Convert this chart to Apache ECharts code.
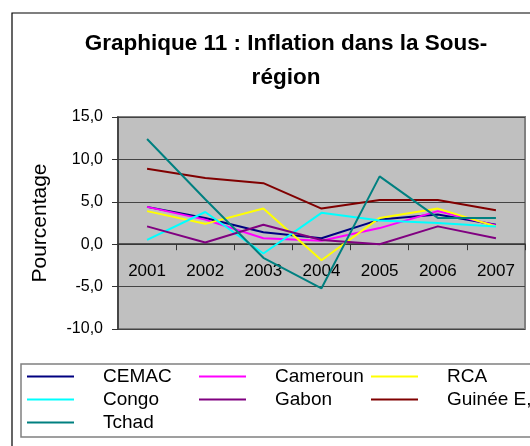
<!DOCTYPE html>
<html>
<head>
<meta charset="utf-8">
<script src="https://cdn.jsdelivr.net/npm/echarts@6/dist/echarts.min.js"></script>
<style>
  html, body { margin: 0; padding: 0; background: #fff; }
  #chart { width: 530px; height: 446px; }
</style>
</head>
<body>
<div id="chart"></div>
<script>
// data
const years = ['2001', '2002', '2003', '2004', '2005', '2006', '2007']
const cemac = [4.4, 3.1, 1.4, 0.7, 2.9, 3.5, 2.3]
const cameroun = [4.4, 2.9, 0.7, 0.4, 1.9, 3.9, 2.2]
const rca = [3.9, 2.4, 4.2, -1.9, 3.1, 4.2, 2.1]
const congo = [0.5, 3.8, -1.1, 3.7, 2.8, 2.5, 2.1]
const gabon = [2.1, 0.2, 2.3, 0.5, 0.0, 2.1, 0.7]
const guinee = [8.9, 7.8, 7.2, 4.2, 5.2, 5.2, 4.0]
const tchad = [12.4, 5.3, -1.6, -5.2, 8.0, 3.1, 3.1]

const yMin = -10
const yMax = 15

const seriesDefs = [
    { name: 'CEMAC', data: cemac, color: '#000080' },
    { name: 'Cameroun', data: cameroun, color: '#ff00ff' },
    { name: 'RCA', data: rca, color: '#ffff00' },
    { name: 'Congo', data: congo, color: '#00ffff' },
    { name: 'Gabon', data: gabon, color: '#800080' },
    { name: 'Guinée E,', data: guinee, color: '#800000' },
    { name: 'Tchad', data: tchad, color: '#008080' }
]

const font = 'Liberation Sans, Arial, sans-serif'
const chart = echarts.init(document.getElementById('chart'))

const gridTop = 117
const gridBottom = 117
const gridHeight = 446 - gridTop - gridBottom
// move the category axis up to the zero line
const zeroOffset = -gridHeight * (0 - yMin) / (yMax - yMin)

// one legend per row, fixed column widths like the original table legend
const legendRow = (names, top) => ({
    data: names,
    left: 27,
    top: top,
    width: 520,
    padding: 0,
    orient: 'horizontal',
    icon: 'rect',
    itemWidth: 47,
    itemHeight: 2,
    itemGap: 0,
    selectedMode: false,
    formatter: name => '{s|}{n|' + name + '}',
    textStyle: {
        fontFamily: font,
        fontSize: 19,
        color: '#000',
        rich: {
            s: { width: 24, lineHeight: 23 },
            n: { width: 96, fontSize: 19, lineHeight: 23, fontFamily: font, color: '#000' }
        }
    }
})

const option = {
    animation: false,
    backgroundColor: '#fff',
    title: {
        text: 'Graphique 11 : Inflation dans la Sous-\nrégion',
        left: 281,
        top: 22,
        textAlign: 'center',
        textStyle: {
            fontFamily: font,
            fontSize: 22.5,
            fontWeight: 'bold',
            color: '#000',
            lineHeight: 34
        }
    },
    graphic: [
        {
            type: 'rect',
            shape: { x: 12, y: 13, width: 540, height: 450 },
            style: { fill: 'none', stroke: '#000', lineWidth: 1.2 },
            z: -1
        },
        {
            type: 'rect',
            shape: { x: 21, y: 364, width: 530, height: 73 },
            style: { fill: 'none', stroke: '#808080', lineWidth: 1.5 },
            z: -1
        }
    ],
    legend: [
        legendRow(['CEMAC', 'Cameroun', 'RCA'], 367),
        legendRow(['Congo', 'Gabon', 'Guinée E,'], 390),
        legendRow(['Tchad'], 413)
    ],
    grid: {
        left: 118,
        right: 5,
        top: gridTop,
        bottom: gridBottom,
        show: true,
        backgroundColor: '#c0c0c0',
        borderColor: '#808080',
        borderWidth: 2
    },
    xAxis: {
        type: 'category',
        data: years,
        boundaryGap: true,
        offset: zeroOffset,
        axisLine: { onZero: false, lineStyle: { color: '#333', width: 1.5 } },
        axisTick: { show: true, length: 6, inside: false, lineStyle: { color: '#333' } },
        axisLabel: { fontFamily: font, fontSize: 17, color: '#000', margin: 19 },
        splitLine: { show: false }
    },
    yAxis: {
        type: 'value',
        min: yMin,
        max: yMax,
        interval: 5,
        name: 'Pourcentage',
        nameLocation: 'middle',
        nameGap: 67,
        nameTextStyle: { fontFamily: font, fontSize: 21, color: '#000' },
        axisLine: { show: true, lineStyle: { color: '#333', width: 1.5 } },
        axisTick: { show: true, length: 6, lineStyle: { color: '#333' } },
        axisLabel: {
            fontFamily: font,
            fontSize: 16,
            color: '#000',
            margin: 15,
            formatter: v => v.toFixed(1).replace('.', ',')
        },
        splitLine: { show: true, lineStyle: { color: '#444', width: 1.2 } }
    },
    series: seriesDefs.map(s => ({
        name: s.name,
        type: 'line',
        data: s.data,
        symbol: 'none',
        lineStyle: { width: 2, color: s.color },
        itemStyle: { color: s.color }
    }))
}

chart.setOption(option)
</script>
</body>
</html>
